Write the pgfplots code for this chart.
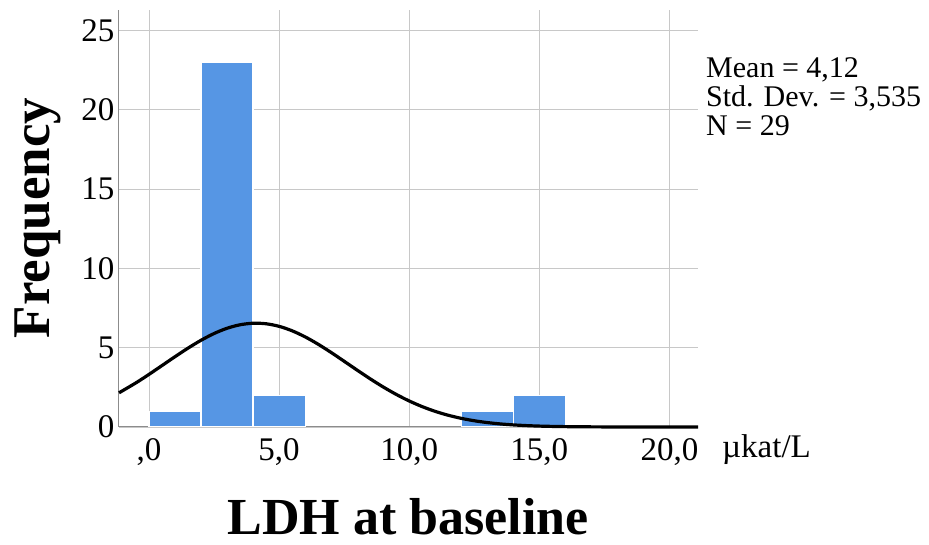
\documentclass[border=0pt]{standalone}
\usepackage{fontspec}
\setmainfont{Liberation Serif}
\usepackage{pgfplots}
\pgfplotsset{compat=1.18}
\definecolor{barblue}{RGB}{86,150,228}
\definecolor{gridgray}{RGB}{200,200,200}
\definecolor{axgray}{RGB}{140,140,140}

\begin{document}
\begin{tikzpicture}
\begin{axis}[
  at={(0pt,0pt)}, anchor=south west,
  scale only axis, width=579pt, height=417pt,
  xmin=-1.154, xmax=21.1, ymin=0, ymax=26.29,
  axis lines*=left,
  set layers,
  axis line style={axgray, line width=1pt, /pgfplots/on layer=axis descriptions},
  grid=major, grid style={gridgray, line width=0.9pt},
  major tick length=0pt,
  xtick={0,5,10,15,20}, xticklabels={{,0},{5,0},{10,0},{15,0},{20,0}},
  ytick={0,5,10,15,20,25}, yticklabels={0,5,10,15,20,25},
  tick label style={font=\fontsize{33}{33}\selectfont},
  xticklabel shift=8pt,
  yticklabel shift=1pt,
]
% histogram, bin width 2
\addplot[ybar interval, fill=barblue, draw=white, line width=1.2pt]
  coordinates {(0,1) (2,23) (4,2) (6,2)};
\addplot[ybar interval, fill=barblue, draw=white, line width=1.2pt]
  coordinates {(12,1) (14,2) (16,2)};
% normal curve (mean 4,12; sd 3,535; N 29)
\addplot[black, line width=3.2pt, smooth, /pgfplots/on layer=axis foreground]
  coordinates {
  (-1.154,2.155) (-0.5,2.786) (0,3.319) (0.5,3.875) (1,4.434) (1.5,4.973)
  (2,5.468) (2.5,5.893) (3,6.225) (3.5,6.445) (4,6.542) (4.5,6.508)
  (5,6.346) (5.5,6.065) (6,5.682) (6.5,5.218) (7,4.697) (7.5,4.144)
  (8,3.584) (8.5,3.038) (9,2.524) (9.5,2.056) (10,1.641) (10.5,1.284)
  (11,0.985) (11.5,0.740) (12,0.546) (12.5,0.394) (13,0.279) (13.5,0.194)
  (14,0.132) (14.5,0.088) (15,0.057) (15.5,0.037) (16,0.023) (17,0.009)
  (18,0.003) (19,0.001) (20,0.0003) (21.1,0)
  };
\end{axis}
\node[rotate=90, font=\fontsize{53}{53}\selectfont\bfseries] at (-81pt,209pt) {Frequency};
\node[font=\fontsize{52}{52}\selectfont\bfseries] at (289pt,-90pt) {LDH at baseline};
\node[anchor=base west, inner sep=0pt, font=\fontsize{33}{33}\selectfont] at (603pt,-31pt) {µkat/L};
\node[anchor=base west, inner sep=0pt, font=\fontsize{30}{30}\selectfont] at (587pt,349pt) {Mean = 4,12};
\node[anchor=base west, inner sep=0pt, font=\fontsize{30}{30}\selectfont] at (587pt,320pt) {Std. Dev. = 3,535};
\node[anchor=base west, inner sep=0pt, font=\fontsize{30}{30}\selectfont] at (587pt,291pt) {N = 29};
\path (-119pt,-118pt) rectangle (810pt,427pt);
\end{tikzpicture}
\end{document}
